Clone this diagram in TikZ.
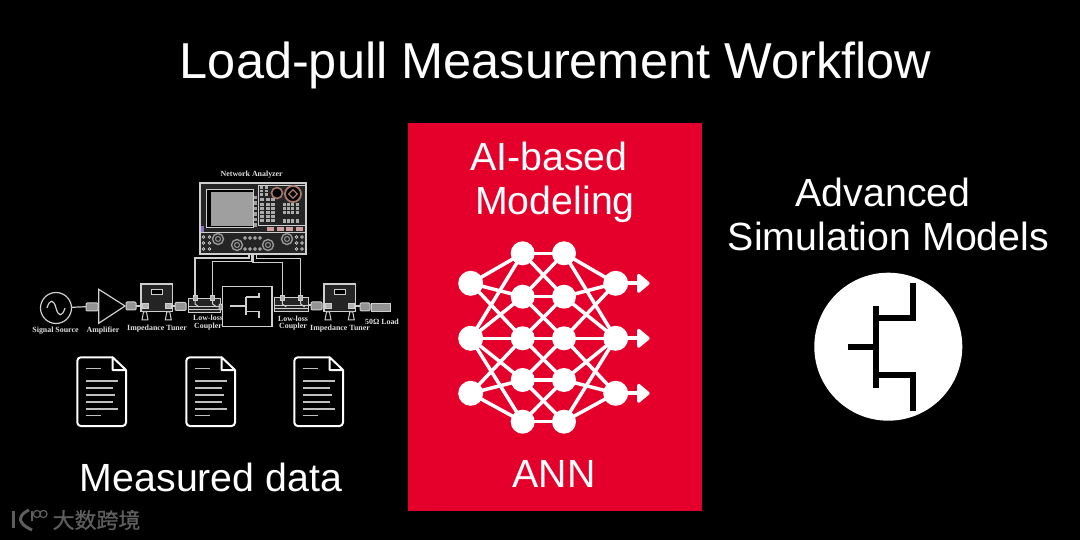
\documentclass[tikz,border=0pt]{standalone}
\usepackage{fontspec}
\setmainfont{Liberation Sans}
\newfontfamily\serifsmall{Liberation Serif}
\newfontfamily\cjkfont[FakeStretch=1.02,FakeBold=0.8]{Noto Sans CJK SC}
\usetikzlibrary{arrows.meta,calc}
\definecolor{annred}{HTML}{E4002B}
\definecolor{wire}{HTML}{CFCFCF}
\definecolor{boxgray}{HTML}{242424}
\definecolor{pinkbtn}{HTML}{D0A0A0}
\definecolor{brownring}{HTML}{A87A6C}
\definecolor{purplebtn}{HTML}{8A6FC0}
\definecolor{markgray}{HTML}{5E5E5E}
\tikzset{
  x=1pt,y=-1pt,
  big/.style={text=white,font=\fontsize{39.3}{39.3}\selectfont,inner sep=0pt,anchor=center},
  titletext/.style={text=white,font=\fontsize{50.5}{51}\selectfont,inner sep=0pt,anchor=center},
  tiny/.style={text=white!88!black,font=\serifsmall\bfseries\fontsize{7.9}{8}\selectfont,inner sep=0pt,anchor=center},
  wireline/.style={draw=wire,line width=1.2pt},
  conn/.style={draw=wire,fill=gray!85,line width=1pt,rounded corners=1pt},
  annedge/.style={draw=white,line width=3.5pt},
  annnode/.style={circle,fill=white,draw=none,minimum size=#1,inner sep=0pt},
  fetline/.style={draw=black,line width=6pt},
  docline/.style={draw=white!75!black,line width=1.1pt},
  pics/docicon/.style={code={
    \draw[white,line width=2pt,line join=round,rounded corners=3.5pt]
      (35.4,0) -- (0,0) -- (0,68.7) -- (48.7,68.7) -- (48.7,12.7);
    \draw[white,line width=2pt,line join=round] (35.4,0) -- (35.4,12.7) -- (48.7,12.7) -- cycle;
    \foreach \yy/\xx in {11/23.7,23.7/40.4,30.7/35.7,37.7/37.7,44.7/35.7,51.7/40.4,58.4/23.7}
      \draw[docline] (8.4,\yy) -- (\xx,\yy);
  }},
  pics/tuner/.style={code={
    \draw[wire,fill=boxgray,line width=1.1pt] (0,0) rectangle (31.3,27.7);
    \draw[wire,fill=black,line width=1pt] (10.7,6) rectangle (21.3,11);
    \foreach \xx in {4,27.3}{
      \draw[wire,fill=gray!60,line width=0.8pt] (\xx-3,19) rectangle (\xx+3,24);
      \draw[wire,fill=black,line width=1pt] (\xx-1.5,28) -- (\xx+1.5,28) -- (\xx+3,36) -- (\xx-3,36) -- cycle;
    }
  }},
  pics/coupler/.style={code={
    \draw[wire,fill=boxgray,line width=0.9pt] (0,0) rectangle (#1,14);
    \draw[wire,line width=1pt] (0,9) -- (#1,9) (0,12) -- (#1,12);
  }},
}
\begin{document}
\begin{tikzpicture}
\useasboundingbox (0,0) rectangle (1080,540);
\fill[black] (0,0) rectangle (1080,540);

% titles
\node[titletext] (title) at (555.5,65) {Load-pull Measurement Workflow};
\fill[annred] (408,123) rectangle (702,511);
\node[big] (aib) at (549,156) {AI-based};
\node[big] (mod) at (555,204.5) {Modeling};
\node[big] (annt) at (554,473.5) {ANN};
\node[big] (adv) at (883,192) {Advanced};
\node[big] (sim) at (888.5,236) {Simulation Models};
\node[big] (meas) at (211,477) {Measured data};

% ANN
\foreach \n/\px/\py in {a1/470.7/283.3,a2/470.7/338.3,a3/470.7/393.3,
  o1/615.7/283.3,o2/615.7/338.3,o3/615.7/393.3,
  b1/522.7/253.3,b2/522.7/296.7,b3/522.7/338.3,b4/522.7/380,b5/522.7/421.7,
  c1/564/253.3,c2/564/296.7,c3/564/338.3,c4/564/380,c5/564/421.7}
  \coordinate (\n) at (\px,\py);
\foreach \s/\t in {a1/b1,a1/b2,a1/b3,a2/b1,a2/b2,a2/b3,a2/b4,a2/b5,a3/b3,a3/b4,a3/b5,
  o1/c1,o1/c2,o1/c3,o2/c1,o2/c2,o2/c3,o2/c4,o2/c5,o3/c3,o3/c4,o3/c5,
  b1/c1,b2/c2,b3/c3,b4/c4,b5/c5,b1/c2,b2/c1,b2/c3,b3/c2,b3/c4,b4/c3,b4/c5,b5/c4}
  \draw[annedge] (\s) -- (\t);
\foreach \n in {a1,a2,a3,o1,o2,o3} \node[annnode=25pt] at (\n) {};
\foreach \n in {b1,b2,b3,b4,b5,c1,c2,c3,c4,c5} \node[annnode=24pt] at (\n) {};
\foreach \n in {o1,o2,o3}{
  \draw[white,line width=4pt] (\n) -- ++(28,0);
  \draw[white,line width=3pt,line join=round,line cap=round,fill=white] ($(\n)+(23,-8)$) -- ($(\n)+(32.5,0)$) -- ($(\n)+(23,8)$) -- cycle;
}

% big FET
\node[circle,fill=white,minimum size=148pt,inner sep=0pt] (fetc) at (888.3,346.7) {};
\draw[fetline] (875.7,305.7) -- (875.7,387.7);
\draw[fetline] (847.7,346.7) -- (875.7,346.7);
\draw[fetline] (875.7,318.3) -- (912.7,318.3) -- (912.7,283.3);
\draw[fetline] (875.7,375) -- (912.7,375) -- (912.7,410.7);

% documents
\pic at (77.3,357.3) {docicon};
\pic at (186.3,357.3) {docicon};
\pic at (294.3,357.3) {docicon};

% signal chain
\node[circle,draw=wire,line width=1.2pt,minimum size=31pt,inner sep=0pt] (src) at (56,308) {};
\draw[wire,line width=1.2pt] (47,308) .. controls (50,298) and (54,300) .. (56,308) .. controls (58,316) and (62,318) .. (65,308);
\coordinate (c1a) at (86,306.7);
\draw[wireline] (src) -- (c1a);
\draw[conn] (86,303) rectangle (98,311);
\draw[wireline] (98.7,289.3) -- (98.7,323.3) -- (125,306) -- cycle;
\draw[conn] (126,302) rectangle (136,310);
\draw[wireline] (136,306) -- (141,306);
\pic at (141,284) {tuner};
\draw[wireline] (172.3,306) -- (175,306);
\draw[conn] (175,302.5) rectangle (186,310.5);
\pic at (188,298) {coupler=32};
\draw[conn] (219,304) rectangle (222,310);
% DUT
\draw[wire,line width=1.1pt] (222.3,286.3) rectangle (272,326.7);
\draw[wire,line width=1.2pt] (230,306) -- (245,306);
\draw[wire,line width=1.5pt] (246,296.7) -- (246,315);
\draw[wire,line width=1.2pt] (246,297) -- (259,297) -- (259,293);
\draw[wire,line width=1.2pt] (246,311.7) -- (259,311.7) -- (259,318);
\pic at (274,297) {coupler=34};
\draw[wireline] (308,305) -- (311,305);
\draw[conn] (311,302) rectangle (322,310);
\pic at (324,284) {tuner};
\draw[wireline] (355,306) -- (360,306);
\draw[conn] (360,303) rectangle (370,311);
\draw[draw=wire,fill=gray!85,line width=1pt] (371.7,304) rectangle (390,312);

% network analyzer
\draw[wire,fill=boxgray,line width=1.1pt] (200,183) rectangle (306,254);
\draw[wire,line width=0.9pt] (200,232.7) -- (306,232.7);
\draw[wire,fill=black,line width=0.9pt] (206,189) rectangle (253,227);
\fill[gray!75] (211,192) rectangle (252.5,226.5);
\draw[wire,line width=0.7pt] (258,185) rectangle (305,225);
\node[fill=purplebtn,minimum width=3pt,minimum height=6pt,inner sep=0pt] (pb) at (202.7,229) {};
% key grids
\foreach \i in {0,...,5}{
  \fill[gray!75] (253.5,196+\i*5.5) rectangle (257,199.5+\i*5.5);
  \foreach \j in {0,1,2}{\fill[gray!65] (260+\j*5.5,198.5+\i*4.2) rectangle (264+\j*5.5,201.5+\i*4.2);}
}
\foreach \i in {0,1,2}\foreach \j in {0,1}\fill[gray!65] (260+\j*5,186.5+\i*3.4) rectangle (263+\j*5,189+\i*3.4);
\foreach \i in {0,1,2}\foreach \j in {0,...,3}\fill[gray!65] (283+\j*4.2,203+\i*4.2) rectangle (286+\j*4.2,205.7+\i*4.2);
\foreach \j in {0,...,3}\fill[gray!65] (283+\j*4.2,219.5) rectangle (286+\j*4.2,223.5);
\foreach \xx in {267,277,286,296}\fill[pinkbtn] (\xx,227) rectangle (\xx+6.5,231);
\node[circle,draw=brownring,fill=black,line width=1.6pt,minimum size=11pt,inner sep=0pt] (kn1) at (277,193) {};
\node[circle,draw=brownring,fill=black,line width=1.8pt,minimum size=16pt,inner sep=0pt] (kn2) at (293,194) {};
\node[draw=brownring,line width=1.2pt,minimum size=6pt,inner sep=0pt,rotate=45] (kn3) at (293,194) {};
\foreach \px/\py in {218/239,237/245,268/245,287/239}{
  \draw[gray!80,line width=1.4pt] (\px,\py) circle (5.5);
  \draw[gray!80,line width=1pt] (\px,\py) circle (2.5);
}
\foreach \px in {203.5,209.5,296.5,302}\foreach \py in {237,243,249}\draw[wire,line width=0.6pt] (\px,\py) circle (1.4);
\foreach \px in {245,250,255,260}\foreach \py in {238,249}\draw[wire,line width=0.6pt] (\px,\py) circle (1.4);

% probes and wires
\foreach \px in {195,212.7,282.3,300.7}{
  \draw[wire,fill=gray!60,line width=0.8pt] (\px-2,295) rectangle (\px+2,300);
  \draw[wire,line width=1pt] (\px,300) -- (\px,304) -- (\px+4,307);
}
\coordinate (na1) at (249,254); \coordinate (na2) at (251.7,254);
\coordinate (na3) at (253,254); \coordinate (na4) at (256.7,254);
\coordinate (p1) at (195,295); \coordinate (p2) at (212.7,295);
\coordinate (p3) at (282.3,295); \coordinate (p4) at (300.7,295);
\draw[wireline] (na1) -- (249,258) -- (195,258) -- (p1);
\draw[wireline] (na2) -- (251.7,261.7) -- (212.7,261.7) -- (p2);
\draw[wireline] (na3) -- (253,262.7) -- (282.3,262.7) -- (p3);
\draw[wireline] (na4) -- (256.7,258.3) -- (300.7,258.3) -- (p4);

% labels
\node[tiny] (l1) at (251.7,175) {Network Analyzer};
\node[tiny] (l2) at (55.5,331) {Signal Source};
\node[tiny] (l3) at (103,331) {Amplifier};
\node[tiny] (l4) at (157,328.5) {Impedance Tuner};
\node[tiny] (l5) at (208,318) {Low-loss};
\node[tiny] (l6) at (208,326.5) {Coupler};
\node[tiny] (l7) at (293,318.5) {Low-loss};
\node[tiny] (l8) at (293,327) {Coupler};
\node[tiny] (l9) at (340,328.7) {Impedance Tuner};
\node[tiny] (l10) at (382,321.7) {50Ω Load};

% watermark
\node[text=markgray,font=\cjkfont\fontsize{21.5}{22}\selectfont,inner sep=0pt] (wm) at (96.5,520) {大数跨境};
\draw[markgray,line width=3pt] (13.5,511) -- (13.5,528);
\draw[markgray,line width=3pt] (29,510) .. controls (20,514) and (19,520) .. (22,523) .. controls (24,526) and (28,528) .. (32,530);
\draw[markgray,line width=1.2pt] (32,511) -- (32,521);
\draw[markgray,line width=1.2pt] (37,514) circle (3.6);
\draw[markgray,line width=1.2pt] (43.5,514) circle (3.6);
\end{tikzpicture}
\end{document}
